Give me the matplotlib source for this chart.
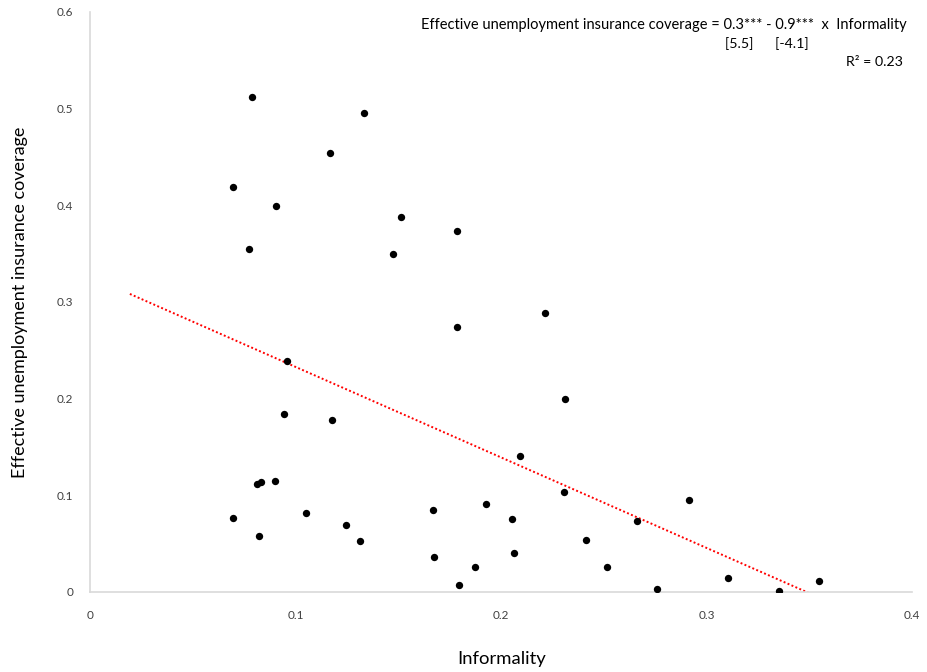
import numpy as np
import matplotlib
matplotlib.use("Agg")
import matplotlib.pyplot as plt

informality = [0.0787, 0.1335, 0.1169, 0.0694, 0.0904, 0.1513, 0.1786, 0.0775, 0.1473, 0.2214,
               0.1786, 0.0959, 0.2311, 0.0944, 0.1179, 0.2092, 0.2307, 0.2913, 0.0811, 0.0831,
               0.0899, 0.0697, 0.1051, 0.1928, 0.1668, 0.2052, 0.2662, 0.1244, 0.0821, 0.1314,
               0.2414, 0.2062, 0.1674, 0.1873, 0.2516, 0.3106, 0.3546, 0.1796, 0.2759, 0.3351]
coverage = [0.512, 0.4959, 0.4543, 0.4190, 0.3994, 0.3876, 0.3738, 0.3545, 0.3497, 0.2887,
            0.2746, 0.2387, 0.1998, 0.1843, 0.1777, 0.1408, 0.1039, 0.0953, 0.1115, 0.1135,
            0.1146, 0.0767, 0.0815, 0.0908, 0.0846, 0.0757, 0.0736, 0.0691, 0.0584, 0.0529,
            0.0543, 0.0408, 0.0357, 0.0256, 0.0261, 0.0150, 0.0116, 0.0074, 0.0029, 0.0008]
x_ticks = [0, 0.1, 0.2, 0.3, 0.4]
x_tick_labels = ["0", "0.1", "0.2", "0.3", "0.4"]
y_ticks = [0, 0.1, 0.2, 0.3, 0.4, 0.5, 0.6]
y_tick_labels = ["0", "0.1", "0.2", "0.3", "0.4", "0.5", "0.6"]
backward_forecast = 0.05

plt.rcParams['font.family'] = ['Lato', 'DejaVu Sans']

fig = plt.figure(figsize=(9.27, 6.72), dpi=100)
ax = fig.add_axes([90/927, 1-592/672, (912-90)/927, (592-12)/672])

x = np.array(informality)
y = np.array(coverage)
slope, intercept = np.polyfit(x, y, 1)
xs = np.linspace(x.min() - backward_forecast, x.max(), 200)
ax.plot(xs, intercept + slope*xs, color='#FF0000', lw=1.4, linestyle=(0, (1, 1.2)), zorder=2)
ax.scatter(x, y, s=28, color='black', zorder=3, linewidths=0)

ax.set_xlim(0, 0.4)
ax.set_ylim(0, 0.6)
ax.set_xticks(x_ticks)
ax.set_xticklabels(x_tick_labels)
ax.set_yticks(y_ticks)
ax.set_yticklabels(y_tick_labels)
ax.tick_params(axis='both', length=0, labelsize=8.5, colors='#404040')
ax.tick_params(axis='x', pad=13)
ax.tick_params(axis='y', pad=12)
for s in ['top', 'right']:
    ax.spines[s].set_visible(False)
for s in ['left', 'bottom']:
    ax.spines[s].set_color('#D9D9D9')
    ax.spines[s].set_linewidth(1.2)

fig.text(502/927, 1-659/672, "Informality", ha='center', va='center', fontsize=13.3)
fig.text(20/927, 1-302/672, "Effective unemployment insurance coverage", ha='center', va='center',
         rotation=90, fontsize=13)

fig.text(907/927, 1-25/672, "Effective unemployment insurance coverage = 0.3*** - 0.9***  x  Informality",
         ha='right', va='center', fontsize=10.5)
fig.text(725/927, 1-44/672, "[5.5]      [-4.1]", ha='left', va='center', fontsize=10.2)
fig.text(903/927, 1-62/672, "R\u00b2 = 0.23", ha='right', va='center', fontsize=10.2)

fig.savefig("out.png", dpi=100)
